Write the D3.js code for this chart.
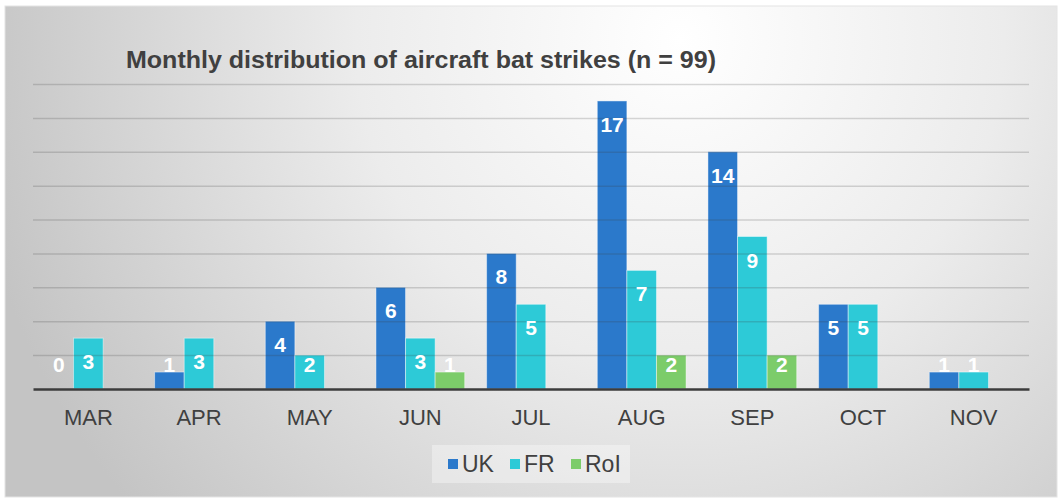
<!DOCTYPE html>
<html>
<head>
<meta charset="utf-8">
<script src="https://cdn.jsdelivr.net/npm/d3@7"></script>
<style>
  body { margin: 0; background: #fff; }
  svg { display: block; font-family: "Liberation Sans", Arial, sans-serif; }
</style>
</head>
<body>
<div id="chart"></div>
<script>
// data
const months = ["MAR", "APR", "MAY", "JUN", "JUL", "AUG", "SEP", "OCT", "NOV"];
const seriesNames = ["UK", "FR", "RoI"];
const ukValues = [0, 1, 4, 6, 8, 17, 14, 5, 1];
const frValues = [3, 3, 2, 3, 5, 7, 9, 5, 1];
const roiValues = [null, null, null, 1, null, 2, 2, null, null];
const yTicks = [0, 2, 4, 6, 8, 10, 12, 14, 16, 18];
const colors = ["#2b79cb", "#2dcad7", "#7ccc6a"];

const width = 1060, height = 499;

const svg = d3.select("#chart").append("svg")
    .attr("width", width)
    .attr("height", height);

const defs = svg.append("defs");
const grad = defs.append("radialGradient")
    .attr("id", "bg")
    .attr("gradientUnits", "userSpaceOnUse")
    .attr("cx", 680).attr("cy", 40).attr("r", 720);
grad.append("stop").attr("offset", "0%").attr("stop-color", "#ffffff");
grad.append("stop").attr("offset", "45%").attr("stop-color", "#ececec");
grad.append("stop").attr("offset", "100%").attr("stop-color", "#c4c4c4");

// chart panel
svg.append("rect")
    .attr("x", 5).attr("y", 6)
    .attr("width", 1052).attr("height", 491)
    .attr("fill", "url(#bg)")
    .attr("stroke", "#e4e4e4")
    .attr("stroke-width", 1);

const x = d3.scaleBand().domain(months).range([33, 1029]).paddingInner(0).paddingOuter(0);
const xs = d3.scaleBand().domain(seriesNames).range([0, x.bandwidth()]).paddingInner(0).paddingOuter(0.37);
const y = d3.scaleLinear().domain([0, 18]).range([389, 84]);

const rows = [];
months.forEach((m, i) => {
    [ukValues, frValues, roiValues].forEach((arr, s) => {
        if (arr[i] !== null) rows.push({ month: m, series: seriesNames[s], value: arr[i], color: colors[s] });
    });
});

// bars
svg.append("g").selectAll("rect")
    .data(rows.filter(d => d.value > 0))
    .join("rect")
    .attr("x", d => x(d.month) + xs(d.series))
    .attr("y", d => y(d.value))
    .attr("width", xs.bandwidth())
    .attr("height", d => y(0) - y(d.value))
    .attr("fill", d => d.color)
    .attr("stroke", "rgba(255,255,255,0.45)")
    .attr("stroke-width", 1);

// gridlines sit over the bars in the original
const grid = svg.append("g")
    .attr("transform", "translate(33,0)")
    .call(d3.axisLeft(y).tickValues(yTicks.slice(1)).tickSize(-(1029 - 33)).tickFormat(""));
grid.select(".domain").remove();
grid.selectAll("line").attr("stroke", "rgba(60,60,60,0.2)").attr("stroke-width", 1.5);

// baseline + month labels
const xAxis = svg.append("g")
    .attr("transform", `translate(0,${y(0)})`)
    .call(d3.axisBottom(x).tickSize(0).tickPadding(20));
xAxis.select(".domain").attr("stroke", "#3c3c3c").attr("stroke-width", 2.5);
xAxis.selectAll("text")
    .attr("fill", "#404040")
    .attr("font-size", 22)
    .attr("font-family", "'Liberation Sans', Arial, sans-serif");

// value labels
svg.append("g").selectAll("text")
    .data(rows)
    .join("text")
    .attr("x", d => x(d.month) + xs(d.series) + xs.bandwidth() / 2)
    .attr("y", d => Math.min(y(d.value) + 31, y(0) - 17))
    .attr("text-anchor", "middle")
    .attr("fill", "#ffffff")
    .attr("font-weight", "bold")
    .attr("font-size", 21)
    .text(d => d.value);

// title
svg.append("text")
    .attr("x", 126).attr("y", 68)
    .attr("fill", "#404040")
    .attr("font-weight", "bold")
    .attr("font-size", 23)
    .attr("textLength", 590)
    .attr("lengthAdjust", "spacingAndGlyphs")
    .text("Monthly distribution of aircraft bat strikes (n = 99)");

// legend
const legend = svg.append("g");
legend.append("rect")
    .attr("x", 432).attr("y", 445)
    .attr("width", 198).attr("height", 38)
    .attr("fill", "rgba(255,255,255,0.35)");
const legendX = [448, 510, 571];
const item = legend.selectAll("g.item")
    .data(seriesNames)
    .join("g")
    .attr("class", "item")
    .attr("transform", (d, i) => `translate(${legendX[i]},0)`);
item.append("rect")
    .attr("y", 459).attr("width", 10).attr("height", 10)
    .attr("fill", (d, i) => colors[i]);
item.append("text")
    .attr("x", 14).attr("y", 472)
    .attr("fill", "#404040")
    .attr("font-size", 23)
    .text(d => d);
</script>
</body>
</html>
